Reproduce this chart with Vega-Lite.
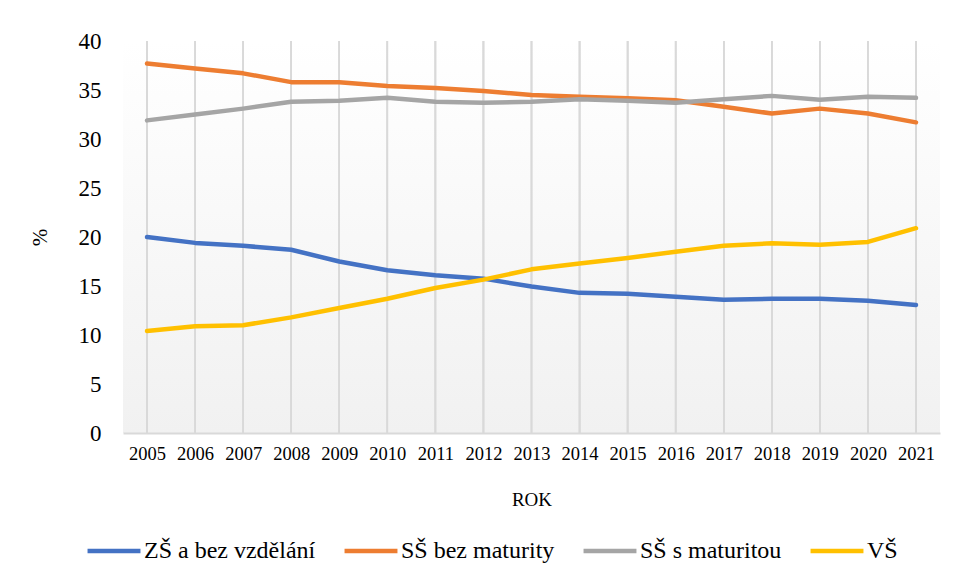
{
  "$schema": "https://vega.github.io/schema/vega-lite/v6.json",
  "autosize": {"type": "none"},
  "padding": {"left": 123, "top": 41, "right": 17, "bottom": 148},
  "width": 817,
  "height": 392,
  "background": "white",
  "config": {
    "view": {"stroke": null},
    "font": "Liberation Serif",
    "axis": {"labelFont": "Liberation Serif", "titleFont": "Liberation Serif"},
    "legend": {"labelFont": "Liberation Serif", "titleFont": "Liberation Serif"}
  },
  "data": {"values": [
    {"rok": "2005", "skupina": "ZŠ a bez vzdělání", "hodnota": 20.0},
    {"rok": "2006", "skupina": "ZŠ a bez vzdělání", "hodnota": 19.4},
    {"rok": "2007", "skupina": "ZŠ a bez vzdělání", "hodnota": 19.1},
    {"rok": "2008", "skupina": "ZŠ a bez vzdělání", "hodnota": 18.7},
    {"rok": "2009", "skupina": "ZŠ a bez vzdělání", "hodnota": 17.5},
    {"rok": "2010", "skupina": "ZŠ a bez vzdělání", "hodnota": 16.6},
    {"rok": "2011", "skupina": "ZŠ a bez vzdělání", "hodnota": 16.1},
    {"rok": "2012", "skupina": "ZŠ a bez vzdělání", "hodnota": 15.75},
    {"rok": "2013", "skupina": "ZŠ a bez vzdělání", "hodnota": 14.95},
    {"rok": "2014", "skupina": "ZŠ a bez vzdělání", "hodnota": 14.3},
    {"rok": "2015", "skupina": "ZŠ a bez vzdělání", "hodnota": 14.2},
    {"rok": "2016", "skupina": "ZŠ a bez vzdělání", "hodnota": 13.9},
    {"rok": "2017", "skupina": "ZŠ a bez vzdělání", "hodnota": 13.6},
    {"rok": "2018", "skupina": "ZŠ a bez vzdělání", "hodnota": 13.7},
    {"rok": "2019", "skupina": "ZŠ a bez vzdělání", "hodnota": 13.7},
    {"rok": "2020", "skupina": "ZŠ a bez vzdělání", "hodnota": 13.5},
    {"rok": "2021", "skupina": "ZŠ a bez vzdělání", "hodnota": 13.05},
    {"rok": "2005", "skupina": "SŠ bez maturity", "hodnota": 37.7},
    {"rok": "2006", "skupina": "SŠ bez maturity", "hodnota": 37.2},
    {"rok": "2007", "skupina": "SŠ bez maturity", "hodnota": 36.7},
    {"rok": "2008", "skupina": "SŠ bez maturity", "hodnota": 35.8},
    {"rok": "2009", "skupina": "SŠ bez maturity", "hodnota": 35.8},
    {"rok": "2010", "skupina": "SŠ bez maturity", "hodnota": 35.4},
    {"rok": "2011", "skupina": "SŠ bez maturity", "hodnota": 35.2},
    {"rok": "2012", "skupina": "SŠ bez maturity", "hodnota": 34.9},
    {"rok": "2013", "skupina": "SŠ bez maturity", "hodnota": 34.5},
    {"rok": "2014", "skupina": "SŠ bez maturity", "hodnota": 34.3},
    {"rok": "2015", "skupina": "SŠ bez maturity", "hodnota": 34.15},
    {"rok": "2016", "skupina": "SŠ bez maturity", "hodnota": 33.95},
    {"rok": "2017", "skupina": "SŠ bez maturity", "hodnota": 33.3},
    {"rok": "2018", "skupina": "SŠ bez maturity", "hodnota": 32.6},
    {"rok": "2019", "skupina": "SŠ bez maturity", "hodnota": 33.1},
    {"rok": "2020", "skupina": "SŠ bez maturity", "hodnota": 32.6},
    {"rok": "2021", "skupina": "SŠ bez maturity", "hodnota": 31.7},
    {"rok": "2005", "skupina": "SŠ s maturitou", "hodnota": 31.9},
    {"rok": "2006", "skupina": "SŠ s maturitou", "hodnota": 32.5},
    {"rok": "2007", "skupina": "SŠ s maturitou", "hodnota": 33.1},
    {"rok": "2008", "skupina": "SŠ s maturitou", "hodnota": 33.8},
    {"rok": "2009", "skupina": "SŠ s maturitou", "hodnota": 33.9},
    {"rok": "2010", "skupina": "SŠ s maturitou", "hodnota": 34.2},
    {"rok": "2011", "skupina": "SŠ s maturitou", "hodnota": 33.8},
    {"rok": "2012", "skupina": "SŠ s maturitou", "hodnota": 33.7},
    {"rok": "2013", "skupina": "SŠ s maturitou", "hodnota": 33.8},
    {"rok": "2014", "skupina": "SŠ s maturitou", "hodnota": 34.05},
    {"rok": "2015", "skupina": "SŠ s maturitou", "hodnota": 33.9},
    {"rok": "2016", "skupina": "SŠ s maturitou", "hodnota": 33.7},
    {"rok": "2017", "skupina": "SŠ s maturitou", "hodnota": 34.05},
    {"rok": "2018", "skupina": "SŠ s maturitou", "hodnota": 34.4},
    {"rok": "2019", "skupina": "SŠ s maturitou", "hodnota": 34.0},
    {"rok": "2020", "skupina": "SŠ s maturitou", "hodnota": 34.3},
    {"rok": "2021", "skupina": "SŠ s maturitou", "hodnota": 34.2},
    {"rok": "2005", "skupina": "VŠ", "hodnota": 10.4},
    {"rok": "2006", "skupina": "VŠ", "hodnota": 10.9},
    {"rok": "2007", "skupina": "VŠ", "hodnota": 11.0},
    {"rok": "2008", "skupina": "VŠ", "hodnota": 11.8},
    {"rok": "2009", "skupina": "VŠ", "hodnota": 12.75},
    {"rok": "2010", "skupina": "VŠ", "hodnota": 13.7},
    {"rok": "2011", "skupina": "VŠ", "hodnota": 14.8},
    {"rok": "2012", "skupina": "VŠ", "hodnota": 15.65},
    {"rok": "2013", "skupina": "VŠ", "hodnota": 16.7},
    {"rok": "2014", "skupina": "VŠ", "hodnota": 17.3},
    {"rok": "2015", "skupina": "VŠ", "hodnota": 17.85},
    {"rok": "2016", "skupina": "VŠ", "hodnota": 18.5},
    {"rok": "2017", "skupina": "VŠ", "hodnota": 19.1},
    {"rok": "2018", "skupina": "VŠ", "hodnota": 19.35},
    {"rok": "2019", "skupina": "VŠ", "hodnota": 19.2},
    {"rok": "2020", "skupina": "VŠ", "hodnota": 19.5},
    {"rok": "2021", "skupina": "VŠ", "hodnota": 20.9}
  ]},
  "layer": [
    {
      "data": {"values": [{"pozadi": 1}]},
      "mark": {
        "type": "rect",
        "fill": {"gradient": "linear", "x1": 0, "y1": 0, "x2": 0, "y2": 1,
          "stops": [{"offset": 0, "color": "#ffffff"}, {"offset": 1, "color": "#f1f1f1"}]}
      },
      "encoding": {
        "x": {"value": 0},
        "x2": {"value": "width"},
        "y": {"value": 0},
        "y2": {"value": "height"}
      }
    },
    {
      "encoding": {
        "x": {
          "field": "rok",
          "type": "ordinal",
          "scale": {"type": "point", "padding": 0.5},
          "axis": {
            "title": "ROK",
            "titleFont": "Liberation Serif",
            "titleFontSize": 19,
            "titleFontWeight": "normal",
            "titleColor": "#000000",
            "titlePadding": 28,
            "labelFont": "Liberation Serif",
            "labelFontSize": 18.5,
            "labelColor": "#000000",
            "labelAngle": 0,
            "labelPadding": 11,
            "ticks": false,
            "grid": false,
            "domainColor": "#d9d9d9",
            "domainWidth": 2,
            "zindex": 1
          }
        }
      },
      "layer": [
        {
          "mark": {"type": "rule", "color": "#d9d9d9", "strokeWidth": 1.5},
          "encoding": {}
        },
        {
          "mark": {"type": "line", "strokeWidth": 4.5, "strokeCap": "round", "strokeJoin": "round"},
          "encoding": {
            "y": {
              "field": "hodnota",
              "type": "quantitative",
              "scale": {"domain": [0, 40], "nice": false, "zero": true},
              "axis": {
                "title": "%",
                "titleFont": "Liberation Serif",
                "titleFontSize": 21,
                "titleFontWeight": "normal",
                "titleColor": "#000000",
                "titlePadding": 28,
                "values": [0, 5, 10, 15, 20, 25, 30, 35, 40],
                "labelFont": "Liberation Serif",
                "labelFontSize": 23,
                "labelColor": "#000000",
                "labelPadding": 22,
                "ticks": false,
                "grid": false,
                "domain": false
              }
            },
            "color": {
              "field": "skupina",
              "type": "nominal",
              "scale": {
                "domain": ["ZŠ a bez vzdělání", "SŠ bez maturity", "SŠ s maturitou", "VŠ"],
                "range": ["#4472c4", "#ed7d31", "#a5a5a5", "#ffc000"]
              },
              "legend": {
                "title": null,
                "orient": "none",
                "direction": "horizontal",
                "legendX": -38,
                "legendY": 481,
                "symbolType": "stroke",
                "symbolStrokeWidth": 4.5,
                "symbolSize": 2800,
                "labelFont": "Liberation Serif",
                "labelFontSize": 24,
                "labelColor": "#000000",
                "labelOffset": 1,
                "labelLimit": 400,
                "columnPadding": 19
              }
            }
          }
        }
      ]
    }
  ]
}
